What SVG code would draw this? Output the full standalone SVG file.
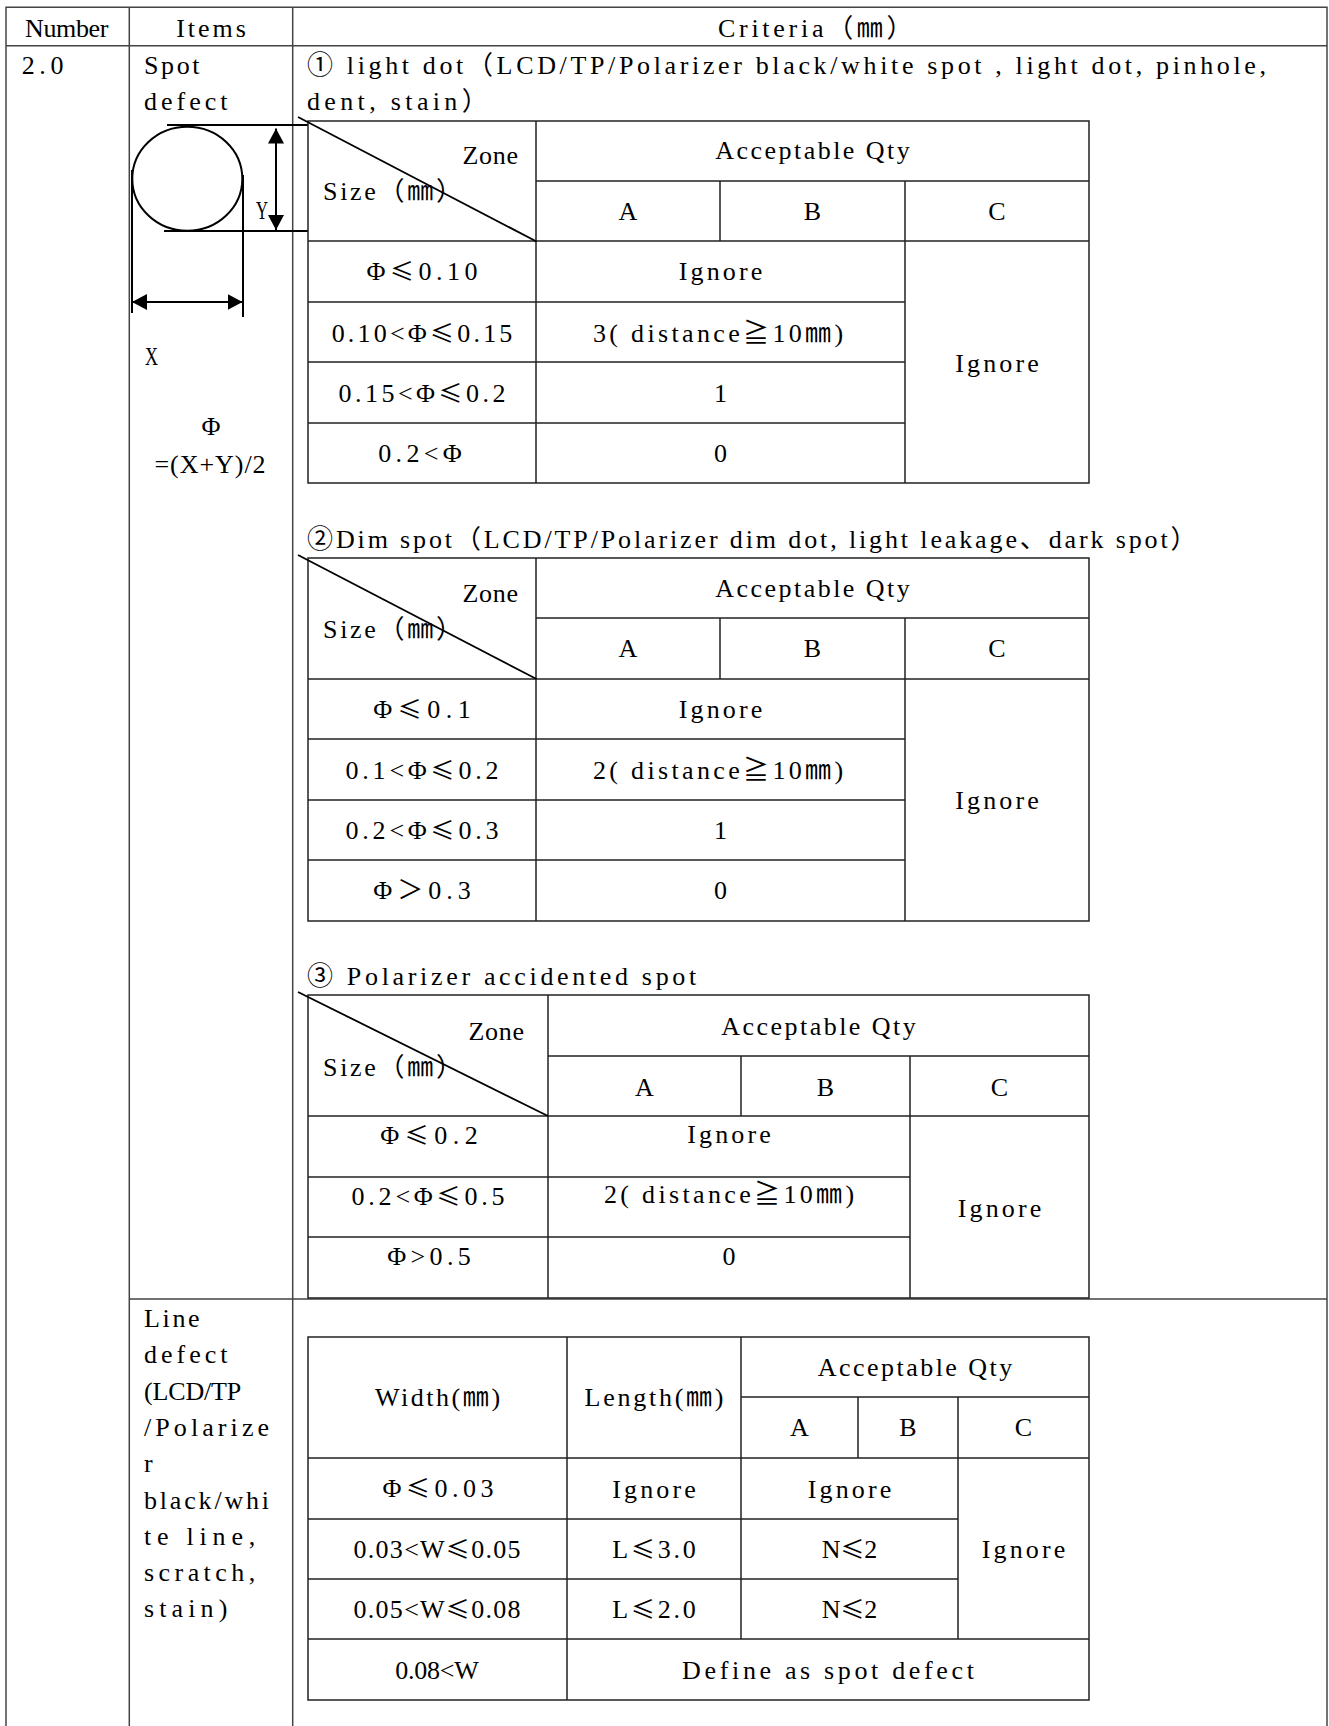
<svg xmlns="http://www.w3.org/2000/svg" width="1329" height="1726" viewBox="0 0 1329 1726">
<style>
.t{font-family:"Liberation Serif","Noto Sans CJK SC",serif;font-size:26px;fill:#000}
.m{font-family:"Noto Sans CJK SC","Liberation Serif",sans-serif;font-size:24px}
.c{text-anchor:middle}
.e{text-anchor:end}
.g{stroke:#444;stroke-width:1.5;fill:none}
.k{stroke:#222;stroke-width:1.5;fill:none}
.d{stroke:#000;stroke-width:1.8;fill:none}
.dim{stroke:#000;stroke-width:2;fill:none}
</style>
<defs>
<marker id="ah" viewBox="0 0 15 16" refX="15" refY="8" markerWidth="15" markerHeight="16" markerUnits="userSpaceOnUse" orient="auto-start-reverse">
<path d="M0,0 L15,8 L0,16 Z" fill="#000"/>
</marker>
</defs>
<rect width="1329" height="1726" fill="#fff"/>

<g id="outer-grid">
<path class="g" d="M6,1726 V7.3 H1327 V1726 M6,45.7 H1327 M129.3,7.3 V1726 M292.7,7.3 V1726 M129.3,1299 H1327"/>
</g>

<g id="header">
<text class="t" x="25" y="36.7" textLength="83.4">Number</text>
<text class="t c" x="211" y="36.7" textLength="69.5">Items</text>
<text class="t" x="718" y="37" textLength="194.6">Criteria（㎜）</text>
</g>

<g id="number">
<text class="t" x="21.7" y="74" textLength="41.7">2.0</text>
</g>

<g id="item-spot">
<text class="t" x="144" y="74" textLength="55.6">Spot</text>
<text class="t" x="144" y="110" textLength="83.4">defect</text>
</g>

<g id="spot-figure">
<ellipse class="dim" cx="187.3" cy="178.8" rx="55" ry="52"/>
<path class="dim" d="M167,125 H308 M164,231 H308 M132,170 V313 M243,175 V317"/>
<line class="dim" x1="276" y1="128.5" x2="276" y2="230" marker-start="url(#ah)" marker-end="url(#ah)"/>
<line class="dim" x1="132" y1="302" x2="242.5" y2="302" marker-start="url(#ah)" marker-end="url(#ah)"/>
<text class="t" x="256" y="219" textLength="12" lengthAdjust="spacingAndGlyphs">Y</text>
<text class="t" x="145" y="365" textLength="13" lengthAdjust="spacingAndGlyphs">X</text>
<text class="t c" x="211" y="435">Φ</text>
<text class="t c" x="210" y="473" textLength="111.2">=(X+Y)/2</text>
</g>

<g id="criteria-1">
<text class="t" x="307" y="74" textLength="959">① light dot（LCD/TP/Polarizer black/white spot , light dot, pinhole,</text>
<text class="t" x="307" y="109.5" textLength="180.7">dent, stain）</text>
<path class="k" d="M308,121 H1089 V483 H308 Z M536,121 V483 M536,181 H1089 M308,241 H1089 M720,181 V241 M905,181 V483 M308,302 H905 M308,362 H905 M308,423 H905"/>
<line class="d" x1="298" y1="117" x2="536.5" y2="241.5"/>
<text class="t e" x="518" y="164" textLength="55.6">Zone</text>
<text class="t" x="323" y="200" textLength="139">Size（㎜）</text>
<text class="t c" x="812.5" y="159" textLength="194.6">Acceptable Qty</text>
<text class="t c" x="628" y="220">A</text>
<text class="t c" x="812.5" y="220">B</text>
<text class="t c" x="997" y="220">C</text>
<text class="t c" x="422" y="280" textLength="111.2">Φ<tspan class="m">≤</tspan>0.10</text>
<text class="t c" x="422" y="341.7" textLength="180.7">0.10&lt;Φ<tspan class="m">≤</tspan>0.15</text>
<text class="t c" x="422" y="401.7" textLength="166.8">0.15&lt;Φ<tspan class="m">≤</tspan>0.2</text>
<text class="t c" x="420" y="461.7" textLength="83.4">0.2&lt;Φ</text>
<text class="t c" x="720.5" y="280" textLength="83.4">Ignore</text>
<text class="t c" x="718" y="341.7" textLength="250.2">3( distance≧10㎜)</text>
<text class="t c" x="720.5" y="401.7">1</text>
<text class="t c" x="720.5" y="461.7">0</text>
<text class="t c" x="997" y="371.7" textLength="83.4">Ignore</text>
</g>

<g id="criteria-2">
<text class="t" x="307" y="548.3" textLength="889.6">②Dim spot（LCD/TP/Polarizer dim dot, light leakage、dark spot）</text>
<path class="k" d="M308,558 H1089 V921 H308 Z M536,558 V921 M536,618 H1089 M308,679 H1089 M720,618 V679 M905,618 V921 M308,739 H905 M308,800 H905 M308,860 H905"/>
<line class="d" x1="298" y1="555" x2="536.5" y2="679"/>
<text class="t e" x="518" y="601.5" textLength="55.6">Zone</text>
<text class="t" x="323" y="637.5" textLength="139">Size（㎜）</text>
<text class="t c" x="812.5" y="597" textLength="194.6">Acceptable Qty</text>
<text class="t c" x="628" y="657">A</text>
<text class="t c" x="812.5" y="657">B</text>
<text class="t c" x="997" y="657">C</text>
<text class="t c" x="422" y="718" textLength="97.3">Φ<tspan class="m">≤</tspan>0.1</text>
<text class="t c" x="422" y="778.5" textLength="152.9">0.1&lt;Φ<tspan class="m">≤</tspan>0.2</text>
<text class="t c" x="422" y="839" textLength="152.9">0.2&lt;Φ<tspan class="m">≤</tspan>0.3</text>
<text class="t c" x="422" y="899" textLength="97.3">Φ＞0.3</text>
<text class="t c" x="720.5" y="718" textLength="83.4">Ignore</text>
<text class="t c" x="718" y="778.5" textLength="250.2">2( distance≧10㎜)</text>
<text class="t c" x="720.5" y="839">1</text>
<text class="t c" x="720.5" y="899">0</text>
<text class="t c" x="997" y="809" textLength="83.4">Ignore</text>
</g>

<g id="criteria-3">
<text class="t" x="307" y="985" textLength="389.2">③ Polarizer accidented spot</text>
<path class="k" d="M308,995 H1089 V1298 H308 Z M548,995 V1298 M548,1056 H1089 M308,1116 H1089 M741,1056 V1116 M910,1056 V1298 M308,1177 H910 M308,1237 H910"/>
<line class="d" x1="298" y1="992" x2="548" y2="1116"/>
<text class="t e" x="524" y="1040" textLength="55.6">Zone</text>
<text class="t" x="323" y="1076" textLength="139">Size（㎜）</text>
<text class="t c" x="818.5" y="1035" textLength="194.6">Acceptable Qty</text>
<text class="t c" x="644.5" y="1096">A</text>
<text class="t c" x="825.5" y="1096">B</text>
<text class="t c" x="999.5" y="1096">C</text>
<text class="t c" x="429" y="1144" textLength="97.3">Φ<tspan class="m">≤</tspan>0.2</text>
<text class="t c" x="428" y="1205" textLength="152.9">0.2&lt;Φ<tspan class="m">≤</tspan>0.5</text>
<text class="t c" x="429" y="1265" textLength="83.4">Φ&gt;0.5</text>
<text class="t c" x="729" y="1143.3" textLength="83.4">Ignore</text>
<text class="t c" x="729" y="1203.3" textLength="250.2">2( distance≧10㎜)</text>
<text class="t c" x="729" y="1265">0</text>
<text class="t c" x="999.5" y="1216.7" textLength="83.4">Ignore</text>
</g>

<g id="item-line">
<text class="t" x="144" y="1327" textLength="55.6">Line</text>
<text class="t" x="144" y="1363.3" textLength="83.4">defect</text>
<text class="t" x="144" y="1399.6" textLength="97.3">(LCD/TP</text>
<text class="t" x="144" y="1435.9" textLength="125.1">/Polarize</text>
<text class="t" x="144" y="1472.2">r</text>
<text class="t" x="144" y="1508.5" textLength="125.1">black/whi</text>
<text class="t" x="144" y="1544.8" textLength="111.2">te line,</text>
<text class="t" x="144" y="1581.1" textLength="111.2">scratch,</text>
<text class="t" x="144" y="1617.4" textLength="83.4">stain)</text>
</g>

<g id="criteria-line">
<path class="k" d="M308,1337 H1089 V1700 H308 Z M567,1337 V1700 M741,1337 V1639 M741,1397 H1089 M858,1397 V1458 M958,1397 V1639 M308,1458 H1089 M308,1519 H958 M308,1579 H958 M308,1639 H1089"/>
<text class="t c" x="437.5" y="1406" textLength="125.1">Width(㎜)</text>
<text class="t c" x="654" y="1406" textLength="139">Length(㎜)</text>
<text class="t c" x="915" y="1376" textLength="194.6">Acceptable Qty</text>
<text class="t c" x="799.5" y="1436">A</text>
<text class="t c" x="908" y="1436">B</text>
<text class="t c" x="1023.5" y="1436">C</text>
<text class="t c" x="438" y="1497" textLength="111.2">Φ<tspan class="m">≤</tspan>0.03</text>
<text class="t c" x="437" y="1558" textLength="166.8">0.03&lt;W<tspan class="m">≤</tspan>0.05</text>
<text class="t c" x="437" y="1618" textLength="166.8">0.05&lt;W<tspan class="m">≤</tspan>0.08</text>
<text class="t c" x="437" y="1679" textLength="83.4">0.08&lt;W</text>
<text class="t c" x="654" y="1498" textLength="83.4">Ignore</text>
<text class="t c" x="654" y="1558" textLength="83.4">L<tspan class="m">≤</tspan>3.0</text>
<text class="t c" x="654" y="1618" textLength="83.4">L<tspan class="m">≤</tspan>2.0</text>
<text class="t c" x="849.5" y="1498" textLength="83.4">Ignore</text>
<text class="t c" x="849.5" y="1558" textLength="55.6">N<tspan class="m">≤</tspan>2</text>
<text class="t c" x="849.5" y="1618" textLength="55.6">N<tspan class="m">≤</tspan>2</text>
<text class="t c" x="1023.5" y="1558" textLength="83.4">Ignore</text>
<text class="t c" x="828" y="1679" textLength="291.9">Define as spot defect</text>
</g>
</svg>
